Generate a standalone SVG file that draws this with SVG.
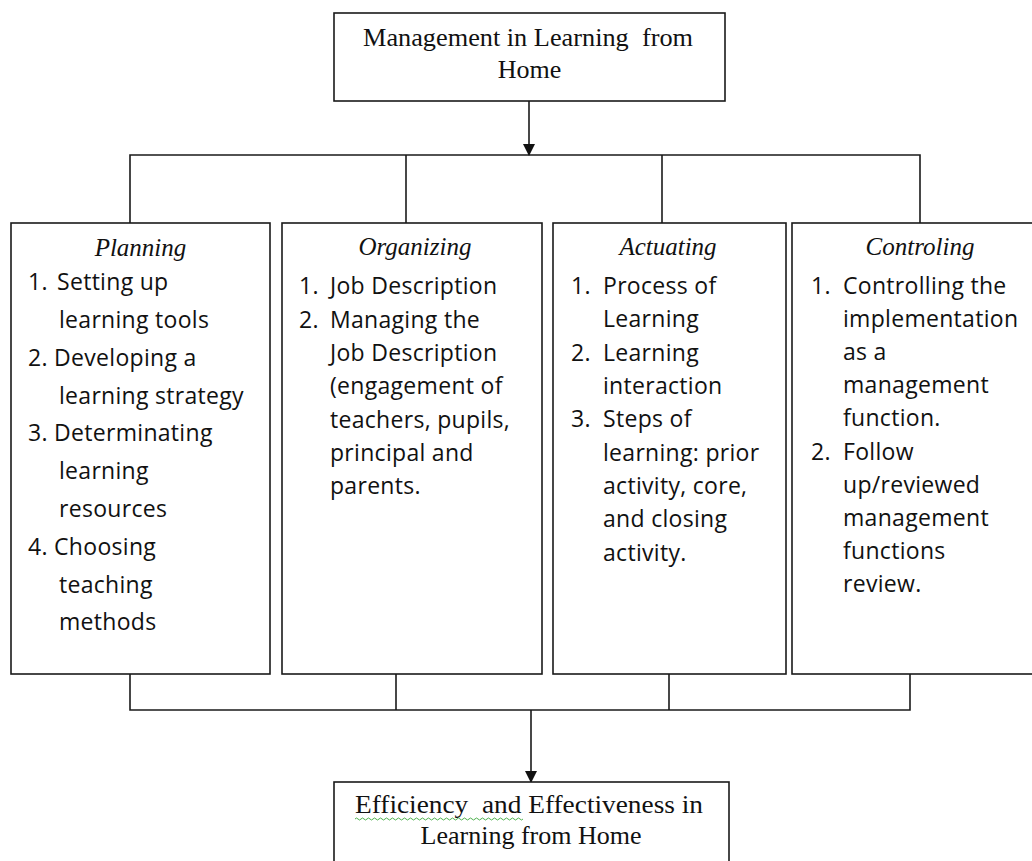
<svg xmlns="http://www.w3.org/2000/svg" width="1032" height="861" viewBox="0 0 1032 861">
<style>
.box{fill:#fff;stroke:#1a1a1a;stroke-width:1.6}
.ln{fill:none;stroke:#1a1a1a;stroke-width:1.6}
.ser{font-family:"Liberation Serif","Times New Roman",serif;font-size:26px;fill:#111}
.hd{font-family:"Liberation Serif","Times New Roman",serif;font-size:25px;font-style:italic;fill:#111;text-anchor:middle}
.bd{font-family:"Open Sans",Lato,sans-serif;font-size:23px;letter-spacing:0.3px;fill:#111}
</style>
<defs>
<marker id="ah" markerWidth="12" markerHeight="12" refX="11" refY="6" orient="auto" markerUnits="userSpaceOnUse">
<path d="M0,0 L12,6 L0,12 Z" fill="#111"/>
</marker>
</defs>
<rect width="1032" height="861" fill="#fff"/>

<g id="connectors">
<line class="ln" x1="529" y1="101" x2="529" y2="155" marker-end="url(#ah)"/>
<polyline class="ln" points="130,223 130,155 920,155 920,223"/>
<line class="ln" x1="406" y1="155" x2="406" y2="223"/>
<line class="ln" x1="662" y1="155" x2="662" y2="223"/>
<polyline class="ln" points="130,674 130,710 910,710 910,674"/>
<line class="ln" x1="396" y1="674" x2="396" y2="710"/>
<line class="ln" x1="669" y1="674" x2="669" y2="710"/>
<line class="ln" x1="531" y1="710" x2="531" y2="782" marker-end="url(#ah)"/>
</g>

<g id="top">
<rect class="box" x="334" y="13" width="391" height="88"/>
<text class="ser" x="363" y="46" textLength="330" lengthAdjust="spacingAndGlyphs">Management in Learning&#160; from</text>
<text class="ser" x="529.5" y="78" text-anchor="middle">Home</text>
</g>

<g id="planning">
<rect class="box" x="11" y="223" width="259" height="451"/>
<text class="hd" x="140.5" y="256">Planning</text>
<text class="bd" x="28" y="290">1.</text>
<text class="bd" x="57" y="290">Setting up</text>
<text class="bd" x="59" y="328">learning tools</text>
<text class="bd" x="28" y="366">2. Developing a</text>
<text class="bd" x="59" y="404">learning strategy</text>
<text class="bd" x="28" y="441">3. Determinating</text>
<text class="bd" x="59" y="479">learning</text>
<text class="bd" x="59" y="517">resources</text>
<text class="bd" x="28" y="555">4. Choosing</text>
<text class="bd" x="59" y="593">teaching</text>
<text class="bd" x="59" y="630">methods</text>
</g>

<g id="organizing">
<rect class="box" x="282" y="223" width="260" height="451"/>
<text class="hd" x="415" y="255">Organizing</text>
<text class="bd" x="299" y="294">1.</text>
<text class="bd" x="330" y="294">Job Description</text>
<text class="bd" x="299" y="327.5">2.</text>
<text class="bd" x="330" y="327.5">Managing the</text>
<text class="bd" x="330" y="361">Job Description</text>
<text class="bd" x="330" y="394">(engagement of</text>
<text class="bd" x="330" y="428">teachers, pupils,</text>
<text class="bd" x="330" y="461">principal and</text>
<text class="bd" x="330" y="494">parents.</text>
</g>

<g id="actuating">
<rect class="box" x="553" y="223" width="233" height="451"/>
<text class="hd" x="668" y="255">Actuating</text>
<text class="bd" x="571" y="294">1.</text>
<text class="bd" x="603" y="294">Process of</text>
<text class="bd" x="603" y="327.3">Learning</text>
<text class="bd" x="571" y="360.6">2.</text>
<text class="bd" x="603" y="360.6">Learning</text>
<text class="bd" x="603" y="394">interaction</text>
<text class="bd" x="571" y="427.3">3.</text>
<text class="bd" x="603" y="427.3">Steps of</text>
<text class="bd" x="603" y="460.6">learning: prior</text>
<text class="bd" x="603" y="494">activity, core,</text>
<text class="bd" x="603" y="527.3">and closing</text>
<text class="bd" x="603" y="560.6">activity.</text>
</g>

<g id="controling">
<rect class="box" x="792" y="223" width="260" height="451"/>
<text class="hd" x="920" y="255">Controling</text>
<text class="bd" x="811" y="294">1.</text>
<text class="bd" x="843" y="294">Controlling the</text>
<text class="bd" x="843" y="327.1">implementation</text>
<text class="bd" x="843" y="360.2">as a</text>
<text class="bd" x="843" y="393.3">management</text>
<text class="bd" x="843" y="426.4">function.</text>
<text class="bd" x="811" y="459.5">2.</text>
<text class="bd" x="843" y="459.5">Follow</text>
<text class="bd" x="843" y="492.6">up/reviewed</text>
<text class="bd" x="843" y="525.7">management</text>
<text class="bd" x="843" y="558.8">functions</text>
<text class="bd" x="843" y="592">review.</text>
</g>

<g id="bottom">
<rect class="box" x="334" y="782" width="395" height="100"/>
<text class="ser" x="355" y="813" textLength="348" lengthAdjust="spacingAndGlyphs">Efficiency&#160; and Effectiveness in</text>
<text class="ser" x="531" y="844" text-anchor="middle">Learning from Home</text>
<path d="M355,819 q1.5,-2 3,0 t3,0 t3,0 t3,0 t3,0 t3,0 t3,0 t3,0 t3,0 t3,0 t3,0 t3,0 t3,0 t3,0 t3,0 t3,0 t3,0 t3,0 t3,0 t3,0 t3,0 t3,0 t3,0 t3,0 t3,0 t3,0 t3,0 t3,0 t3,0 t3,0 t3,0 t3,0 t3,0 t3,0 t3,0 t3,0 t3,0 t3,0 t3,0 t3,0 t3,0 t3,0 t3,0 t3,0 t3,0 t3,0 t3,0 t3,0 t3,0 t3,0 t3,0 t3,0 t3,0 t3,0 t3,0 t3,0" fill="none" stroke="#3aa83a" stroke-width="0.9"/>
</g>
</svg>
